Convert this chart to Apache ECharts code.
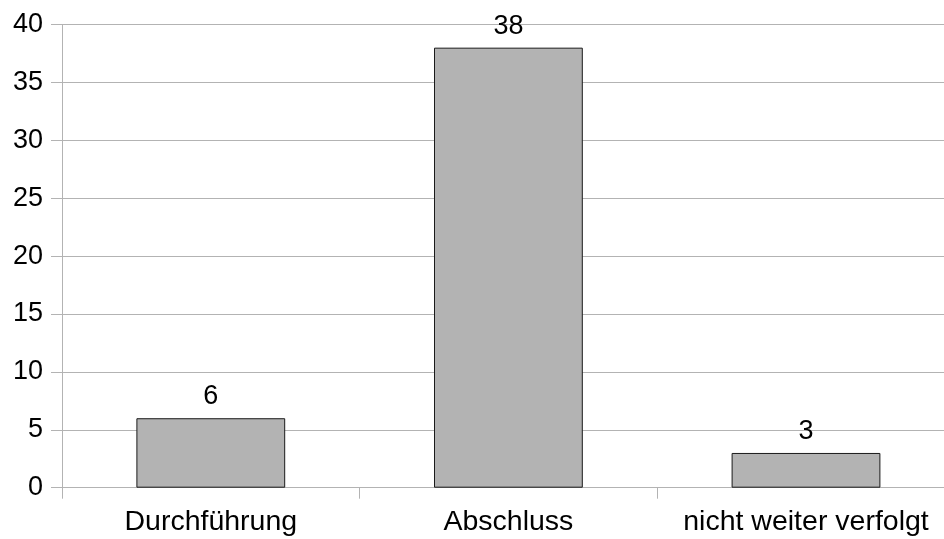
<!DOCTYPE html>
<html>
<head>
<meta charset="utf-8">
<script src="https://cdn.jsdelivr.net/npm/echarts@6/dist/echarts.min.js"></script>
<style>
  html, body { margin: 0; padding: 0; background: #fff; overflow: hidden; width: 944px; height: 539px; }
  /* canvas is a bit wider than the window so the plot area runs off the right edge */
  #chart { width: 960px; height: 539px; }
</style>
</head>
<body>
<div id="chart"></div>
<script>
// Project status counts
const categories = ['Durchführung', 'Abschluss', 'nicht weiter verfolgt'];
const counts = [6, 38, 3];
const yTicks = { min: 0, max: 40, interval: 5 };

const font = '"Liberation Sans", Arial, sans-serif';
const chart = echarts.init(document.getElementById('chart'), null, { renderer: 'canvas' });

chart.setOption({
  animation: false,
  backgroundColor: '#ffffff',
  grid: { left: 62, right: 5.2, top: 24.5, bottom: 51.3, containLabel: false },
  xAxis: {
    type: 'category',
    data: categories,
    axisLine: { show: true, lineStyle: { color: '#b3b3b3', width: 1 } },
    axisTick: { show: true, length: 11, lineStyle: { color: '#b3b3b3' } },
    axisLabel: { interval: 0, color: '#000', fontFamily: font, fontSize: 28.5, margin: 20 },
    splitLine: { show: false }
  },
  yAxis: {
    type: 'value',
    min: yTicks.min,
    max: yTicks.max,
    interval: yTicks.interval,
    axisLine: { show: true, lineStyle: { color: '#b3b3b3', width: 1 } },
    axisTick: { show: true, length: 11, lineStyle: { color: '#b3b3b3' } },
    axisLabel: { color: '#000', fontFamily: font, fontSize: 27, margin: 19 },
    splitLine: { show: true, lineStyle: { color: '#b3b3b3', width: 1 } }
  },
  series: [{
    type: 'bar',
    data: counts,
    barWidth: '50%',
    itemStyle: { color: '#b3b3b3', borderColor: '#1a1a1a', borderWidth: 1 },
    label: {
      show: true,
      position: 'top',
      distance: 8,
      color: '#000',
      fontFamily: font,
      fontSize: 27
    }
  }]
});
</script>
</body>
</html>
